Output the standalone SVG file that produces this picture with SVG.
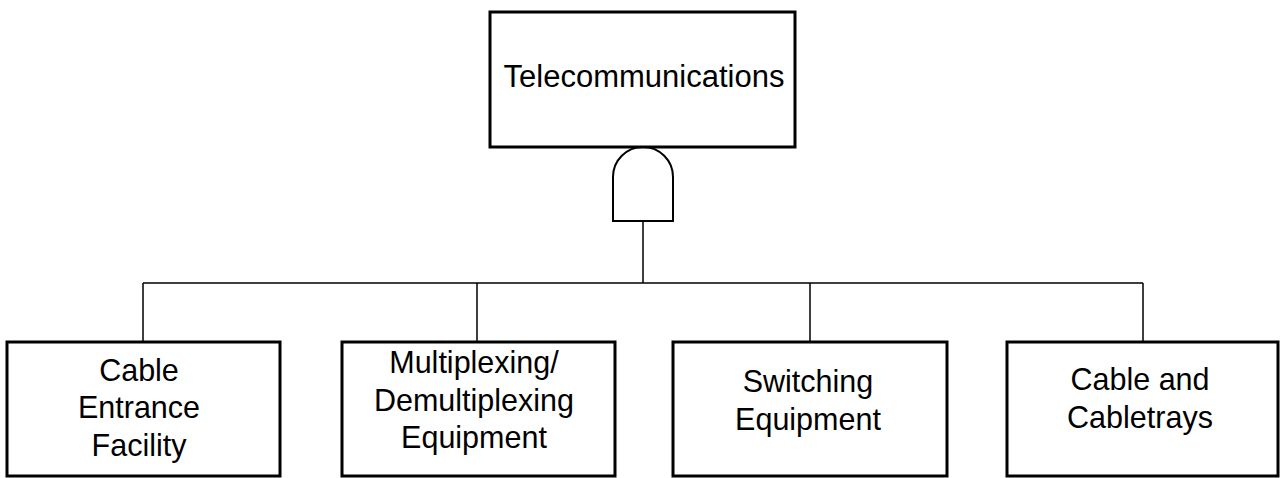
<svg xmlns="http://www.w3.org/2000/svg" width="1283" height="478" viewBox="0 0 1283 478">
<style>
.box{fill:#fff;stroke:#000;stroke-width:3}
.lbl{font-family:"Liberation Sans",Arial,sans-serif;font-size:30.5px;fill:#000;text-anchor:middle}
.top{font-size:31px}
.wire{fill:none;stroke:#000;stroke-width:1.5}
.gate{fill:#fff;stroke:#000;stroke-width:2}
</style>
<rect width="1283" height="478" fill="#fff"/>
<g id="connectors">
<path class="wire" d="M643 221V283M143 283H1143M143 283V342M477 283V342M810 283V342M1143 283V342"/>
</g>
<g id="gate-and">
<path class="gate" d="M613 221V177A30 30 0 0 1 673 177V221Z"/>
</g>
<g id="node-telecom">
<rect class="box" x="490" y="12" width="305" height="135"/>
<text class="lbl top" x="644" y="87">Telecommunications</text>
</g>
<g id="node-cable-entrance">
<rect class="box" x="7" y="342" width="273" height="134"/>
<text class="lbl" x="139" y="381">Cable</text>
<text class="lbl" x="139" y="418">Entrance</text>
<text class="lbl" x="139" y="456">Facility</text>
</g>
<g id="node-multiplexing">
<rect class="box" x="342" y="342" width="273" height="134"/>
<text class="lbl" x="474" y="373">Multiplexing/</text>
<text class="lbl" x="474" y="411">Demultiplexing</text>
<text class="lbl" x="474" y="448">Equipment</text>
</g>
<g id="node-switching">
<rect class="box" x="673" y="342" width="274" height="134"/>
<text class="lbl" x="808" y="392">Switching</text>
<text class="lbl" x="808" y="430">Equipment</text>
</g>
<g id="node-cabletrays">
<rect class="box" x="1007" y="342" width="271" height="134"/>
<text class="lbl" x="1140" y="390">Cable and</text>
<text class="lbl" x="1140" y="428">Cabletrays</text>
</g>
</svg>
